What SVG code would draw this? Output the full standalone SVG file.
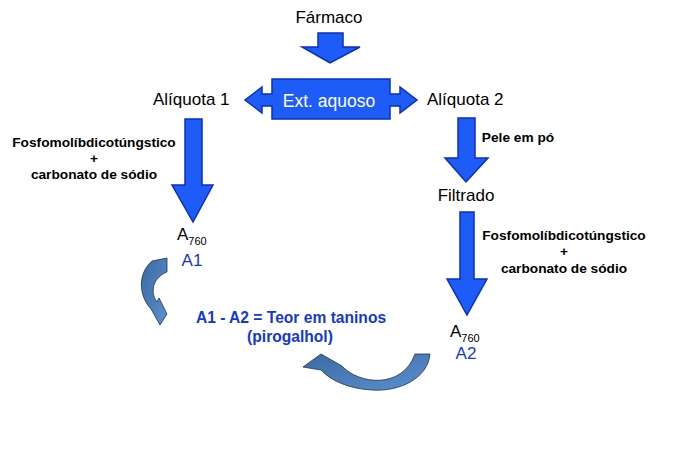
<svg xmlns="http://www.w3.org/2000/svg" width="684" height="452" viewBox="0 0 684 452">
<defs>
<style>
.lbl{font-family:"Liberation Sans",Arial,sans-serif;font-size:17px;fill:#000}
.reag{font-family:"Liberation Sans",Arial,sans-serif;font-size:13.7px;font-weight:bold;fill:#000;text-anchor:middle}
.sub{font-size:11px}
.blue{font-family:"Liberation Sans",Arial,sans-serif;font-size:17px;fill:#1537d2}
.res{font-family:"Liberation Sans",Arial,sans-serif;font-size:15.6px;font-weight:bold;fill:#1537d2;text-anchor:middle}
.barrow{fill:#1d5cf7;stroke:#0b2fc0;stroke-width:1.5;stroke-linejoin:miter}
.carrow{fill:url(#cg);stroke:#1e334f;stroke-width:0.8}
</style>
<linearGradient id="cg" x1="0" y1="0" x2="1" y2="1">
<stop offset="0" stop-color="#3a6aa2"/>
<stop offset="1" stop-color="#5b8fcf"/>
</linearGradient>
</defs>

<g id="farmaco">
<text class="lbl" x="329" y="23" text-anchor="middle">Fármaco</text>
</g>

<g id="ext-aquoso">
<path class="barrow" d="M272,79 H390 V94 H400 V87 L417,100 L400,113 V106 H390 V119 H272 V106 H262 V113 L245,100 L262,87 V94 H272 Z"/>
<text x="329" y="107" text-anchor="middle" style="font-family:'Liberation Sans',Arial,sans-serif;font-size:17.5px;fill:#fff">Ext. aquoso</text>
</g>

<g id="aliquota1">
<text class="lbl" x="153" y="105">Alíquota 1</text>
</g>

<g id="aliquota2">
<text class="lbl" x="427" y="105">Alíquota 2</text>
</g>

<g id="filtrado">
<text class="lbl" x="466" y="201" text-anchor="middle">Filtrado</text>
</g>

<g id="a1">
<text class="lbl" x="177" y="240">A<tspan class="sub" dy="5">760</tspan></text>
<text class="blue" x="192" y="266" text-anchor="middle">A1</text>
</g>

<g id="a2">
<text class="lbl" x="450" y="337">A<tspan class="sub" dy="5">760</tspan></text>
<text class="blue" x="466" y="359" text-anchor="middle">A2</text>
</g>

<g id="resultado">
<text class="res" x="291" y="323">A1 - A2 = Teor em taninos</text>
<text class="res" x="290" y="342">(pirogalhol)</text>
</g>

<g id="connectors">
<path class="barrow" d="M318,33 H343 V47 H360 L330,63 L302,47 H318 Z"/>
<path class="barrow" d="M185,119 H202 V185 H213 L193,222 L172,185 H185 Z"/>
<path class="barrow" d="M458,118 H475 V158 H488 L466,182 L445,158 H458 Z"/>
<path class="barrow" d="M460,212 H474 V279 H487 L467,315 L447,279 H460 Z"/>
<text class="reag" x="518" y="142">Pele em pó</text>
<text class="reag" x="94" y="147">Fosfomolíbdicotúngstico</text>
<text class="reag" x="94" y="163">+</text>
<text class="reag" x="94" y="179">carbonato de sódio</text>
<text class="reag" x="564" y="240">Fosfomolíbdicotúngstico</text>
<text class="reag" x="564" y="256">+</text>
<text class="reag" x="564" y="273">carbonato de sódio</text>
<path class="carrow" d="M152,261 L167,258 L167,272 C154,277 149,291 157,302 L159,298 L167,314 L160,325 L151,309 C138,295 138,273 152,261 Z"/>
<path class="carrow" d="M415,354 L430,354 C428,378 400,392 372,390 C350,389 331,381 321,370 L303,367 L321,354 L342,366 C358,384 402,390 415,354 Z"/>
</g>
</svg>
